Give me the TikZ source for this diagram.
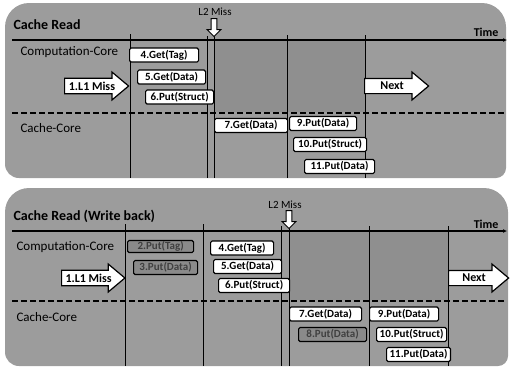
\documentclass[tikz,border=0pt]{standalone}
\usepackage{fontspec}
\setmainfont{Carlito}
\usetikzlibrary{shapes.arrows,arrows.meta,positioning}
\definecolor{panelgray}{HTML}{9C9C9C}
\definecolor{waitgray}{HTML}{8F8F8F}
\definecolor{boxgray}{HTML}{8A8A8A}

\begin{document}
\begin{tikzpicture}[
    x=1pt,y=-1pt,
    panel/.style   = {fill=panelgray},
    waitzone/.style= {fill=waitgray},
    axe/.style     = {line width=1.3pt,-{Latex[length=4pt,width=4pt]}},
    tick/.style    = {line width=0.8pt},
    sep/.style     = {line width=1.2pt,dash pattern=on 6pt off 3pt},
    msg/.style     = {draw,fill=white,line width=1.2pt,rounded corners=1.5pt,
                      font=\bfseries\fontsize{11}{12}\selectfont,
                      inner xsep=3pt,inner ysep=0pt,minimum height=14pt,
                      minimum width=68pt,anchor=west},
    msgoff/.style  = {msg,fill=boxgray,text=black!75},
    ttl/.style     = {font=\bfseries\fontsize{14}{15}\selectfont,anchor=west},
    row/.style     = {font=\fontsize{13}{14}\selectfont,anchor=west},
    lbl/.style     = {font=\bfseries\fontsize{12}{13}\selectfont,anchor=east},
    big/.style     = {single arrow,draw,fill=white,line width=1.2pt,
                      single arrow head extend=5.5pt,single arrow tip angle=80,
                      minimum width=28pt,inner ysep=2pt,
                      font=\bfseries\fontsize{12}{13}\selectfont,anchor=west},
    miss/.style    = {single arrow,draw,fill=white,line width=1pt,rotate=-90,
                      minimum height=18pt,minimum width=14pt,
                      single arrow head extend=3pt,inner sep=1.5pt},
  ]
  \useasboundingbox (0,0) rectangle (512,368);

  % Panneau du haut : Cache Read
  \fill[panel] (5,100) [rounded corners=24pt] -- (5,3) -- (506,3)
               [rounded corners=10pt] -- (506,178) [rounded corners=14pt] -- (5,178) -- cycle;
  \fill[waitzone] (214,41) rectangle (365,112);
  \draw[axe] (12,40) -- (507,40);
  \draw[sep] (12,113) -- (505,113);
  \draw[tick] (130,34) -- (130,178);
  \draw[tick] (207,36) -- (207,178);
  \draw[tick] (214,36) -- (214,178);
  \draw[tick] (287,35) -- (287,178);
  \draw[tick] (365,35) -- (365,178);

  \node[ttl] (ttlA) at (10,25) {Cache Read};
  \node[lbl] (timeA) at (502,32) {Time};
  \node[font=\fontsize{11}{12}\selectfont] (l2A) at (215,12) {L2 Miss};
  \node[miss,anchor=west] (l2arrA) at (214,18) {};
  \node[row] (compA) at (17,52) {Computation-Core};
  \node[row] (cacheA) at (17,128) {Cache-Core};

  \node[big,minimum height=64pt] (l1A) at (64,86) {1.L1 Miss};
  \node[big,minimum height=64pt] (nextA) at (364,86) {Next\hspace{20pt}};

  \node[msg,minimum width=69pt] (a4) at (129,55) {4.Get(Tag)};
  \node[msg] (a5) at (137,77) {5.Get(Data)};
  \node[msg] (a6) at (145,97) {6.Put(Struct)};
  \node[msg,minimum width=73pt] (a7) at (214,125.5) {7.Get(Data)};
  \node[msg,minimum width=67pt] (a9) at (289,123.5) {9.Put(Data)};
  \node[msg,minimum width=73pt] (a10) at (293,144.5) {10.Put(Struct)};
  \node[msg,minimum width=70pt] (a11) at (304,166.5) {11.Put(Data)};

  % Panneau du bas : Cache Read (Write back)
  \fill[panel] (5,290) [rounded corners=24pt] -- (5,188) -- (508,188)
               [rounded corners=10pt] -- (508,366) [rounded corners=14pt] -- (5,366) -- cycle;
  \fill[waitzone] (289,232) rectangle (448,300);
  \draw[axe] (12,231) -- (507,231);
  \draw[sep] (12,301) -- (505,301);
  \draw[tick] (125,224) -- (125,366);
  \draw[tick] (203,224) -- (203,366);
  \draw[tick] (281,226) -- (281,366);
  \draw[tick] (289,226) -- (289,366);
  \draw[tick] (369,226) -- (369,366);
  \draw[tick] (448,226) -- (448,366);

  \node[ttl] (ttlB) at (10,216) {Cache Read (Write back)};
  \node[lbl] (timeB) at (502,224) {Time};
  \node[font=\fontsize{11}{12}\selectfont] (l2B) at (285,205) {L2 Miss};
  \node[miss,anchor=west] (l2arrB) at (289,210) {};
  \node[row] (compB) at (13,247) {Computation-Core};
  \node[row] (cacheB) at (13,317) {Cache-Core};

  \node[big,minimum height=62pt] (l1B) at (61,278) {1.L1 Miss};
  \node[big,minimum height=60pt] (nextB) at (448,278) {Next\hspace{16pt}};

  \node[msgoff,minimum height=12pt,minimum width=66pt] (b2) at (127,246.5) {2.Put(Tag)};
  \node[msgoff,minimum width=64pt] (b3) at (133,267.5) {3.Put(Data)};
  \node[msg,minimum width=63pt] (b4) at (210,248) {4.Get(Tag)};
  \node[msg] (b5) at (213,266.5) {5.Get(Data)};
  \node[msg,minimum width=71pt] (b6) at (218,285.5) {6.Put(Struct)};
  \node[msg,minimum width=72pt] (b7) at (289,314) {7.Get(Data)};
  \node[msgoff] (b8) at (298,334.5) {8.Put(Data)};
  \node[msg,minimum width=69pt] (b9) at (369,314) {9.Put(Data)};
  \node[msg,minimum width=70pt] (b10) at (376,334.5) {10.Put(Struct)};
  \node[msg,minimum width=63pt] (b11) at (386,354.5) {11.Put(Data)};

\end{tikzpicture}
\end{document}
